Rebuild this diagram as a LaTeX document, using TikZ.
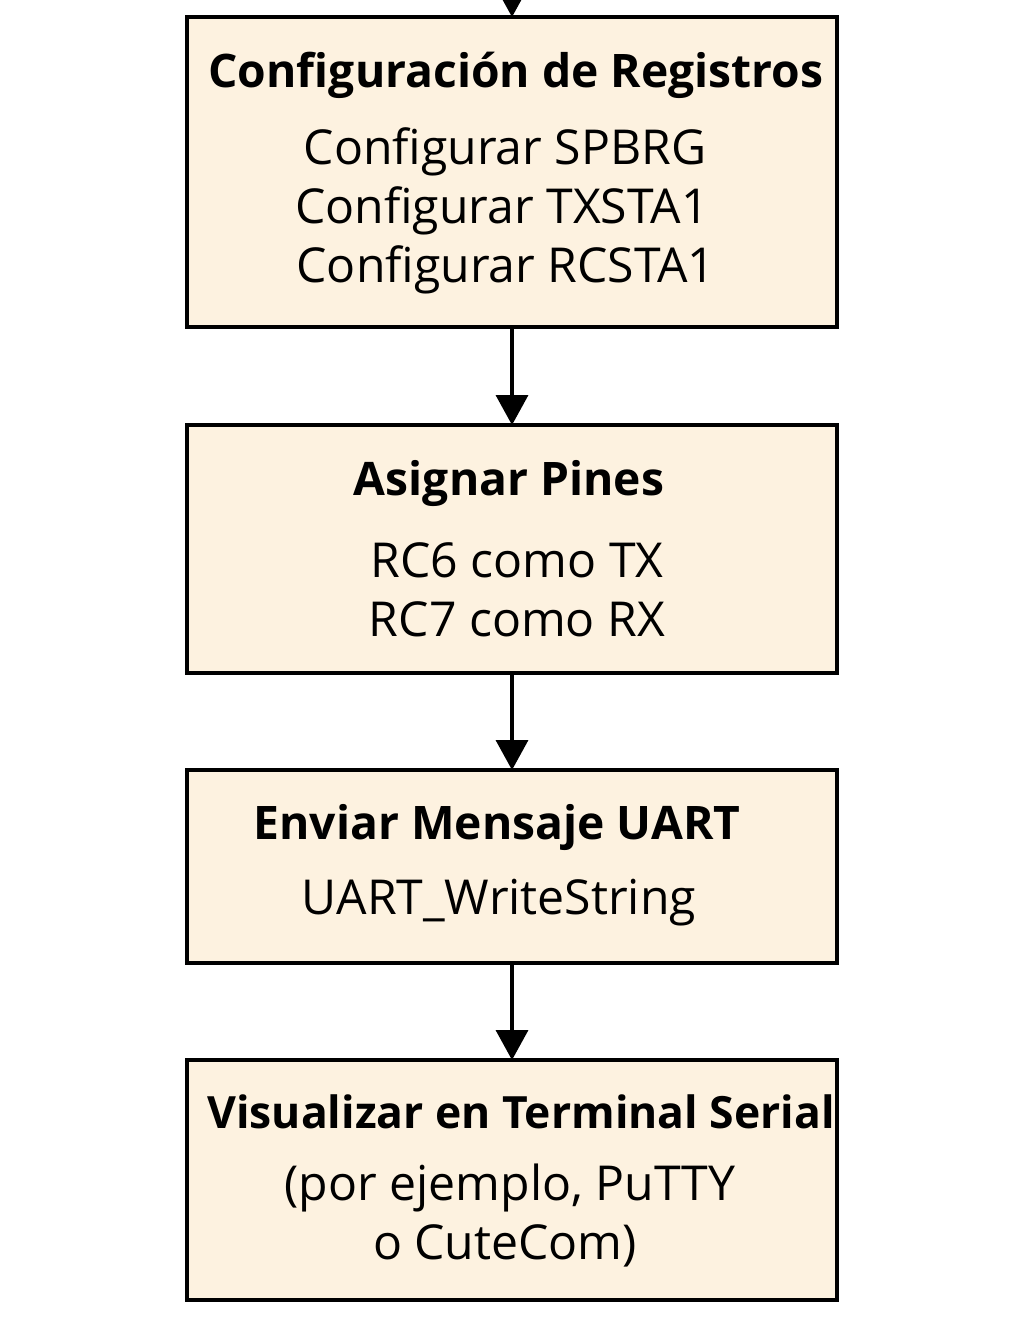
\documentclass[tikz,border=0pt]{standalone}
\usepackage{fontspec}
\setmainfont{Open Sans}
\usepackage{tikz}
\usetikzlibrary{arrows.meta}
\definecolor{boxfill}{HTML}{FDF2E0}

\begin{document}
\begin{tikzpicture}[box/.style={draw, line width=2.3pt, fill=boxfill, minimum width=13cm, inner sep=0pt, outer sep=0pt}, x=0.02cm, y=-0.02cm,
			>={Triangle[length=0.6cm, width=0.64cm]},   %Pfeilspitzen
			titel/.style={font=\fontsize{26.3}{30}\selectfont\bfseries},
			zeile/.style={font=\fontsize{27.4}{31}\selectfont}]
			%Bildbereich
			\useasboundingbox (0,0) rectangle (1024,1338);
			%Boxen zeichnen
			\node[box, minimum height=6.2cm] (reg) at (512,172) {};
			\node[box, minimum height=4.96cm] (pin) at (512,549) {};
			\node[box, minimum height=3.86cm] (env) at (512,866.5) {};
			\node[box, minimum height=4.8cm] (vis) at (512,1180) {};
			% Texte
			\node[titel] (regT) at (516,75) {Configuración de Registros};
			\node[zeile] (reg1) at (505,152) {Configurar SPBRG};
			\node[zeile] (reg2) at (502,211) {Configurar TXSTA1};
			\node[zeile] (reg3) at (506,270) {Configurar RCSTA1};
			\node[titel] (pinT) at (509,483) {Asignar Pines};
			\node[zeile] (pin1) at (517,560) {RC6 como TX};
			\node[zeile] (pin2) at (517,619) {RC7 como RX};
			\node[titel] (envT) at (497,827) {Enviar Mensaje UART};
			\node[zeile] (env1) at (499,903) {UART\_WriteString};
			\node[titel, font=\fontsize{25.3}{30}\selectfont\bfseries] (visT) at (521,1112) {Visualizar en Terminal Serial};
			\node[zeile] (vis1) at (510,1188) {(por ejemplo, PuTTY};
			\node[zeile] (vis2) at (505,1246) {o CuteCom)};
			% Pfeile
			\coordinate (start) at (512,0);
			\draw[->, line width=2pt] (start) -- (reg.north);
			\draw[->, line width=2pt] (reg) -- (pin);
			\draw[->, line width=2pt] (pin) -- (env);
			\draw[->, line width=2pt] (env) -- (vis);
		\end{tikzpicture}
\end{document}
